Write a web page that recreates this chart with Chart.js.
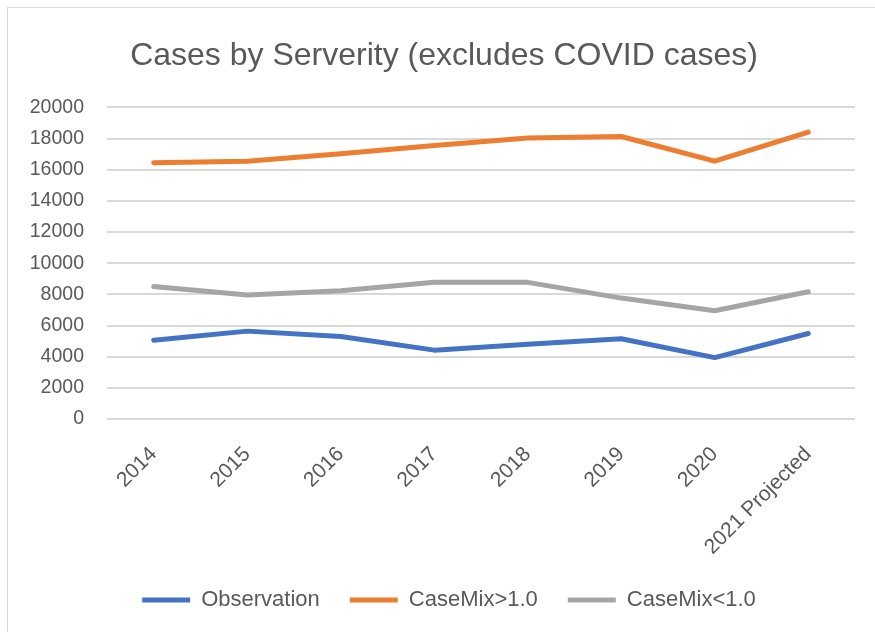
<!DOCTYPE html>
<html>
<head>
<meta charset="utf-8">
<script src="https://cdn.jsdelivr.net/npm/chart.js@4"></script>
<style>
  html, body { margin: 0; padding: 0; background: #fff; }
  #frame { position: absolute; left: 7px; top: 7px; width: 900px; height: 700px;
           border-top: 1px solid #d9d9d9; border-left: 1px solid #d9d9d9; }
  #wrap { position: absolute; left: 0; top: 0; width: 875px; height: 632px; }
</style>
</head>
<body>
<div id="frame"></div>
<div id="wrap"><canvas id="chart"></canvas></div>
<script>
const years = ["2014", "2015", "2016", "2017", "2018", "2019", "2020", "2021 Projected"];
const observation = [5060, 5640, 5300, 4420, 4800, 5150, 3940, 5490];
const caseMixHigh = [16450, 16550, 17020, 17550, 18030, 18130, 16550, 18410];
const caseMixLow = [8510, 7960, 8230, 8770, 8770, 7760, 6950, 8170];

const textColor = "#595959";
const font = "'Liberation Sans', Arial, sans-serif";

function line(label, data, color) {
  return {
    label,
    data,
    borderColor: color,
    backgroundColor: color,
    borderWidth: 5,
    borderCapStyle: "round",
    borderJoinStyle: "round",
    pointRadius: 0,
    tension: 0
  };
}

// nudge title and legend so they sit where the original ones are
const nudge = {
  id: "nudge",
  afterLayout(chart) {
    chart.legend.left += 9;
    chart.legend.right += 9;
    chart.titleBlock.left += 4;
    chart.titleBlock.right += 4;
  }
};

new Chart(document.getElementById("chart"), {
  type: "line",
  data: {
    labels: years,
    datasets: [
      line("Observation", observation, "#4472C4"),
      line("CaseMix>1.0", caseMixHigh, "#ED7D31"),
      line("CaseMix<1.0", caseMixLow, "#A5A5A5")
    ]
  },
  plugins: [nudge],
  options: {
    responsive: true,
    maintainAspectRatio: false,
    animation: false,
    layout: { padding: { left: 25, right: 20, top: 0, bottom: 11 } },
    plugins: {
      title: {
        display: true,
        text: "Cases by Serverity (excludes COVID cases)",
        color: textColor,
        font: { family: font, size: 32, weight: "normal" },
        padding: { top: 37, bottom: 32 }
      },
      legend: {
        position: "bottom",
        labels: {
          usePointStyle: true,
          pointStyle: "line",
          pointStyleWidth: 48,
          padding: 30,
          color: textColor,
          font: { family: font, size: 22 }
        }
      },
      tooltip: { enabled: false }
    },
    scales: {
      x: {
        offset: true,
        grid: { display: false },
        border: { display: false },
        ticks: {
          minRotation: 45,
          maxRotation: 45,
          padding: 15,
          color: textColor,
          font: { family: font, size: 21 }
        },
        afterFit: s => { s.height = 140; }
      },
      y: {
        min: 0,
        max: 20000,
        grid: { color: "#d9d9d9", lineWidth: 2, drawTicks: false },
        border: { display: false },
        ticks: {
          stepSize: 2000,
          padding: 23,
          color: textColor,
          font: { family: font, size: 19.5 },
          callback: v => String(v)
        },
        afterFit: s => { s.width = 82; }
      }
    }
  }
});
</script>
</body>
</html>
